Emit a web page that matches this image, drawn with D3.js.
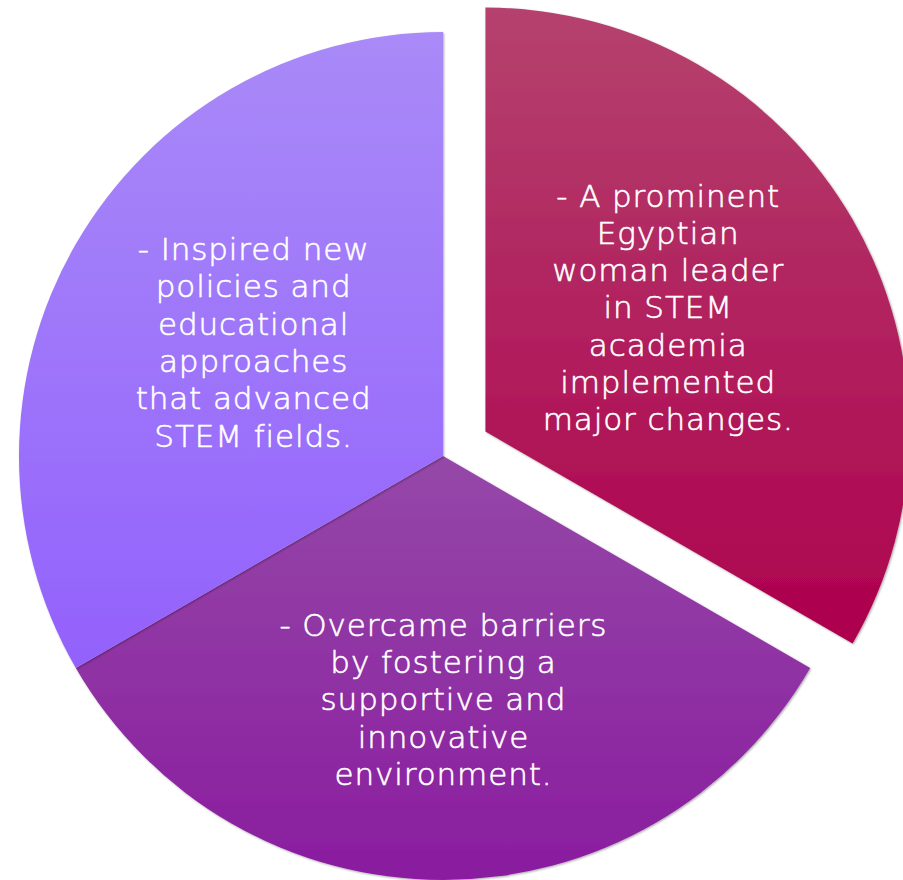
<!DOCTYPE html>
<html>
<head>
<meta charset="utf-8">
<script src="https://cdn.jsdelivr.net/npm/d3@7"></script>
<style>
  html, body { margin: 0; padding: 0; background: #ffffff; }
  svg { display: block; }
</style>
</head>
<body>
<div id="chart"></div>
<script>
// ---- data ----
const categories = ["Leader", "Barriers", "Policies"];
const values = [1, 1, 1];
const labelLines = [
  ["- A prominent", "Egyptian", "woman leader", "in STEM", "academia", "implemented", "major changes."],
  ["- Overcame barriers", "by fostering a", "supportive and", "innovative", "environment."],
  ["- Inspired new", "policies and", "educational", "approaches", "that advanced", "STEM fields."]
];
const colorTop = ["#b5426e", "#9548a8", "#a98af8"];
const colorBottom = ["#ad004e", "#8a1c9f", "#9361fc"];

// ---- layout ----
const W = 903, H = 880;
const cx = 443, cy = 456, R = 424;
const explodedIndex = 0, explodeDist = 49;
const labelRadiusFrac = [0.506, 0.60, 0.509];
const labelAngleShift = [-1.8, 0, -1.6];
const fontSize = 31, lineH = 37.3, letterSp = 0.9;

const svg = d3.select("#chart").append("svg")
  .attr("width", W).attr("height", H);

const defs = svg.append("defs");
values.forEach((v, i) => {
  const g = defs.append("linearGradient")
    .attr("id", "grad" + i)
    .attr("x1", 0).attr("y1", 0).attr("x2", 0).attr("y2", 1);
  g.append("stop").attr("offset", "0%").attr("stop-color", colorTop[i]);
  g.append("stop").attr("offset", "100%").attr("stop-color", colorBottom[i]);
});
const f = defs.append("filter").attr("id", "shadow")
  .attr("x", "-5%").attr("y", "-5%").attr("width", "110%").attr("height", "110%");
f.append("feDropShadow").attr("dx", 1).attr("dy", 1).attr("stdDeviation", 1)
  .attr("flood-color", "#000").attr("flood-opacity", 0.35);

const pie = d3.pie().value(d => d).sort(null).startAngle(0).endAngle(2 * Math.PI);
const arcs = pie(values);
const arc = d3.arc().innerRadius(0).outerRadius(R);

const g = svg.append("g").attr("transform", `translate(${cx},${cy})`);

const slices = g.selectAll("g.slice").data(arcs).join("g")
  .attr("class", "slice")
  .attr("transform", (d, i) => {
    if (i !== explodedIndex) return null;
    const a = (d.startAngle + d.endAngle) / 2;
    return `translate(${explodeDist * Math.sin(a)},${-explodeDist * Math.cos(a)})`;
  });

slices.append("path")
  .attr("d", arc)
  .attr("fill", (d, i) => `url(#grad${i})`)
  .attr("filter", "url(#shadow)");

slices.each(function(d, i) {
  const a = (d.startAngle + d.endAngle) / 2 + labelAngleShift[i] * Math.PI / 180;
  const lr = R * labelRadiusFrac[i];
  const x = lr * Math.sin(a) + letterSp / 2, y = -lr * Math.cos(a);
  const lines = labelLines[i];
  const t = d3.select(this).append("text")
    .attr("text-anchor", "middle")
    .attr("fill", "#ffffff")
    .attr("stroke", "#ffffff")
    .attr("stroke-width", 0.6)
    .attr("font-family", "'DejaVu Sans', sans-serif")
    .attr("font-weight", 300)
    .attr("font-size", fontSize)
    .attr("letter-spacing", letterSp);
  const y0 = y - (lines.length - 1) * lineH / 2;
  lines.forEach((ln, k) => {
    t.append("tspan").attr("x", x).attr("y", y0 + k * lineH).text(ln);
  });
});
</script>
</body>
</html>
